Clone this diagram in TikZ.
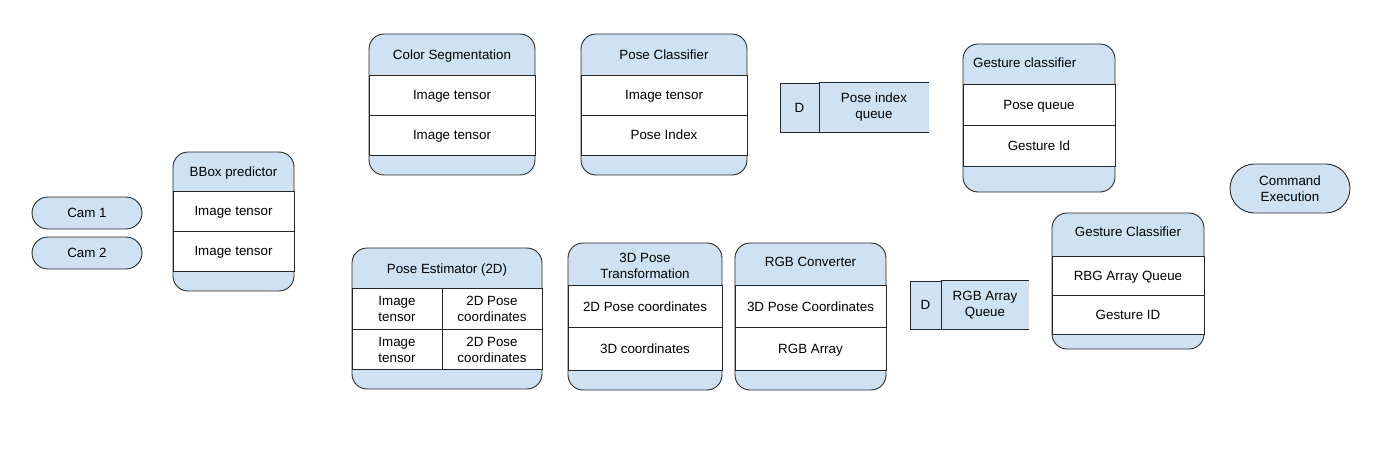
\documentclass[tikz,border=0pt]{standalone}
\usepackage{fontspec}
\setmainfont{Liberation Sans}
\definecolor{boxblue}{HTML}{CFE2F3}
\definecolor{edge}{HTML}{262626}
\tikzset{
  comp/.style={draw=edge, fill=boxblue, rounded corners=0.3cm, line width=0.5pt},
  cell/.style={draw=edge, fill=white, line width=0.5pt, align=center, inner sep=1pt, text depth=0pt},
  cellpair/.style={draw=edge, fill=white, line width=0.5pt, align=center, inner sep=1pt},
  head/.style={align=center, inner sep=1pt, text depth=0pt},
  headpair/.style={align=center, inner sep=1pt},
  cam/.style={draw=edge, fill=boxblue, line width=0.5pt, align=center},
  dcell/.style={draw=edge, fill=boxblue, line width=0.5pt, text depth=0pt},
  storetext/.style={fill=boxblue, align=center, inner sep=1pt},
  storeline/.style={draw=edge, line width=0.5pt},
}
\begin{document}
\begin{tikzpicture}[x=0.02cm, y=-0.02cm, font=\fontsize{7.6}{9.1}\selectfont]
\useasboundingbox (0,0) rectangle (1384,460);
% cameras
\node[cam, rounded corners=0.32cm, text depth=0pt, minimum width=2.2cm, minimum height=0.64cm] (cam1) at (87,213) {Cam 1};
\node[cam, rounded corners=0.32cm, text depth=0pt, minimum width=2.2cm, minimum height=0.64cm] (cam2) at (87,253) {Cam 2};
% bbox predictor
\node[comp, minimum width=2.42cm, minimum height=2.78cm] (bbox) at (233.5,221.5) {};
\node[head] (bboxhead) at (233.5,171.5) {BBox predictor};
\node[cell, minimum width=2.42cm, minimum height=0.8cm] (bboxin1) at (233.5,211) {Image tensor};
\node[cell, minimum width=2.42cm, minimum height=0.8cm] (bboxin2) at (233.5,251) {Image tensor};
% color segmentation
\node[comp, minimum width=3.32cm, minimum height=2.82cm] (colseg) at (452,104.5) {};
\node[head] (colseghead) at (452,54.5) {Color Segmentation};
\node[cell, minimum width=3.32cm, minimum height=0.8cm] (colsegin) at (452,95) {Image tensor};
\node[cell, minimum width=3.32cm, minimum height=0.8cm] (colsegout) at (452,135) {Image tensor};
% pose classifier
\node[comp, minimum width=3.32cm, minimum height=2.82cm] (posecls) at (664,104.5) {};
\node[head] (poseclshead) at (664,54.5) {Pose Classifier};
\node[cell, minimum width=3.32cm, minimum height=0.8cm] (poseclsin) at (664,95) {Image tensor};
\node[cell, minimum width=3.32cm, minimum height=0.8cm] (poseclsout) at (664,135) {Pose Index};
% pose index queue
\node[storetext, minimum width=2.2cm, minimum height=0.98cm] (poseq) at (874,107.5) {Pose index\\queue};
\draw[storeline] (poseq.north west) -- (poseq.north east) (poseq.south west) -- (poseq.south east);
\node[dcell, minimum width=0.78cm, minimum height=0.98cm] (poseqd) at (799.5,107.5) {D};
% gesture classifier (top)
\node[comp, minimum width=3.04cm, minimum height=2.96cm] (gestcls) at (1039,118) {};
\node[head, anchor=west] (gestclshead) at (971,63) {Gesture classifier};
\node[cell, minimum width=3.04cm, minimum height=0.82cm] (gestclsin) at (1039,104.5) {Pose queue};
\node[cell, minimum width=3.04cm, minimum height=0.82cm] (gestclsout) at (1039,145.5) {Gesture Id};
% command execution
\node[cam, rounded corners=0.49cm, minimum width=2.4cm, minimum height=0.98cm] (cmd) at (1290,188.5) {Command\\Execution};
% pose estimator
\node[comp, minimum width=3.8cm, minimum height=2.82cm] (poseest) at (447,318.5) {};
\node[head] (poseesthead) at (447,268.5) {Pose Estimator (2D)};
\node[cellpair, minimum width=1.8cm, minimum height=0.81cm] (poseestin1) at (397,309) {Image\\tensor};
\node[cellpair, minimum width=2.0cm, minimum height=0.81cm] (poseestout1) at (492,309) {2D Pose\\coordinates};
\node[cellpair, minimum width=1.8cm, minimum height=0.81cm] (poseestin2) at (397,349.5) {Image\\tensor};
\node[cellpair, minimum width=2.0cm, minimum height=0.81cm] (poseestout2) at (492,349.5) {2D Pose\\coordinates};
% 3d pose transformation
\node[comp, minimum width=3.08cm, minimum height=2.94cm] (pose3d) at (645,316.5) {};
\node[headpair] (pose3dhead) at (645,265.5) {3D Pose\\Transformation};
\node[cell, minimum width=3.08cm, minimum height=0.85cm] (pose3din) at (645,306.5) {2D Pose coordinates};
\node[cell, minimum width=3.08cm, minimum height=0.85cm] (pose3dout) at (645,349) {3D coordinates};
% rgb converter
\node[comp, minimum width=3.02cm, minimum height=2.94cm] (rgbconv) at (810.5,316.5) {};
\node[head] (rgbconvhead) at (810.5,262) {RGB Converter};
\node[cell, minimum width=3.02cm, minimum height=0.85cm] (rgbconvin) at (810.5,306.5) {3D Pose Coordinates};
\node[cell, minimum width=3.02cm, minimum height=0.85cm] (rgbconvout) at (810.5,349) {RGB Array};
% rgb array queue
\node[storetext, minimum width=1.76cm, minimum height=0.96cm] (rgbq) at (985,305) {RGB Array\\Queue};
\draw[storeline] (rgbq.north west) -- (rgbq.north east) (rgbq.south west) -- (rgbq.south east);
\node[dcell, minimum width=0.62cm, minimum height=0.96cm] (rgbqd) at (925.5,305) {D};
% gesture classifier (bottom)
\node[comp, minimum width=3.04cm, minimum height=2.72cm] (gestrgb) at (1128,281) {};
\node[head] (gestrgbhead) at (1128,232) {Gesture Classifier};
\node[cell, minimum width=3.04cm, minimum height=0.78cm] (gestrgbin) at (1128,275.5) {RBG Array Queue};
\node[cell, minimum width=3.04cm, minimum height=0.78cm] (gestrgbout) at (1128,314.5) {Gesture ID};
\end{tikzpicture}
\end{document}
